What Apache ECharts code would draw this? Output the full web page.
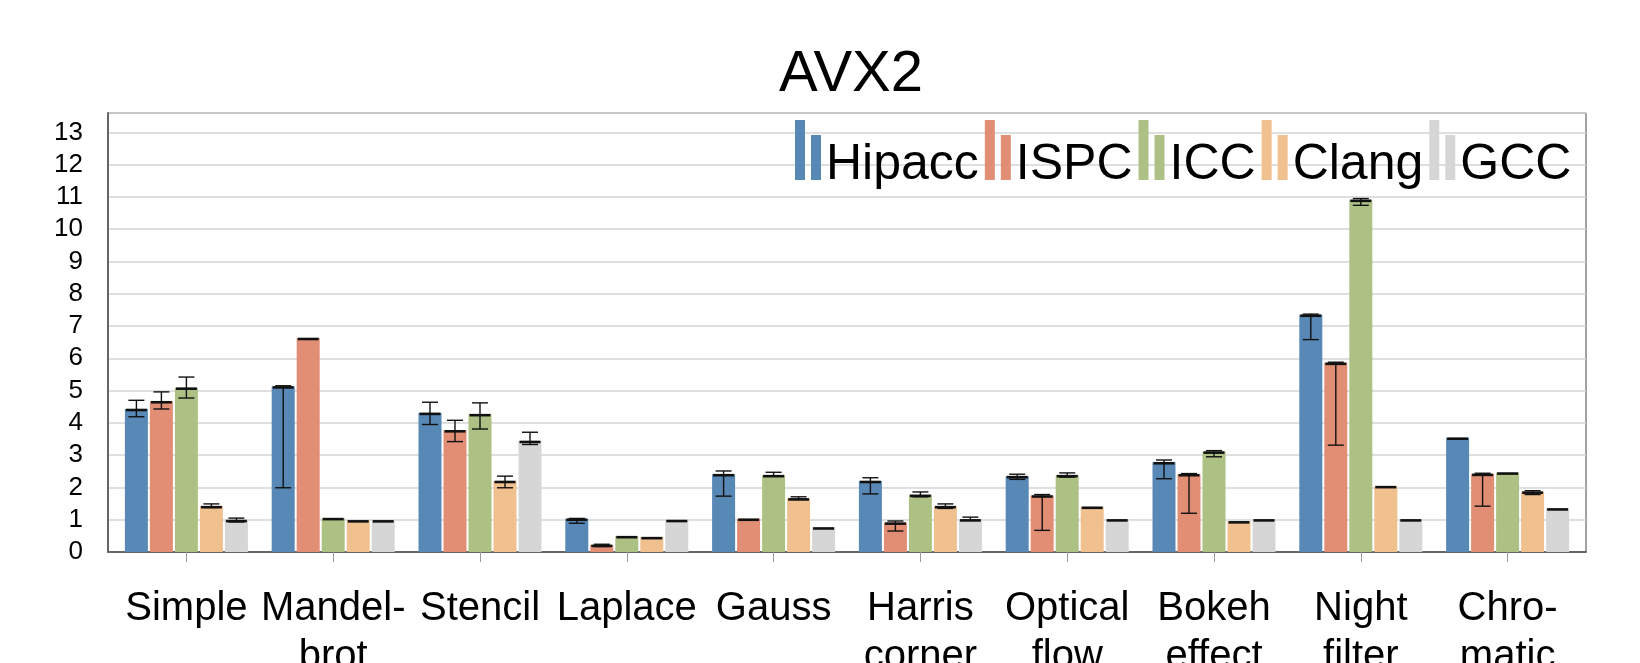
<!DOCTYPE html>
<html>
<head>
<meta charset="utf-8">
<script src="https://cdn.jsdelivr.net/npm/echarts@6/dist/echarts.min.js"></script>
<style>html,body{margin:0;padding:0;background:#fff;}#c{width:1640px;height:663px;}</style>
</head>
<body>
<div id="c"></div>
<script>
const categories = ['Simple','Mandel-\nbrot','Stencil','Laplace','Gauss','Harris\ncorner','Optical\nflow','Bokeh\neffect','Night\nfilter','Chro-\nmatic'];
const seriesNames = ['Hipacc','ISPC','ICC','Clang','GCC'];

const hipacc   = [4.43, 5.13, 4.31, 1.03, 2.41, 2.20, 2.35, 2.78, 7.35, 3.54];
const hipaccLo = [4.19, 1.99, 3.95, 0.89, 1.73, 1.80, 2.25, 2.27, 6.58, 3.52];
const hipaccHi = [4.70, 5.15, 4.64, 1.04, 2.51, 2.30, 2.41, 2.85, 7.37, 3.56];

const ispc   = [4.67, 6.63, 3.77, 0.22, 1.03, 0.91, 1.75, 2.41, 5.86, 2.42];
const ispcLo = [4.43, 6.62, 3.42, 0.17, 1.01, 0.65, 0.67, 1.20, 3.31, 1.42];
const ispcHi = [4.96, 6.65, 4.08, 0.24, 1.05, 0.96, 1.78, 2.43, 5.88, 2.44];

const icc   = [5.09, 1.05, 4.27, 0.49, 2.38, 1.77, 2.38, 3.11, 10.91, 2.46];
const iccLo = [4.77, 1.04, 3.81, 0.48, 2.35, 1.71, 2.32, 2.95, 10.74, 2.45];
const iccHi = [5.42, 1.06, 4.62, 0.50, 2.47, 1.86, 2.45, 3.14, 10.95, 2.48];

const clang   = [1.42, 0.98, 2.20, 0.46, 1.66, 1.42, 1.40, 0.95, 2.04, 1.87];
const clangLo = [1.38, 0.97, 1.99, 0.45, 1.63, 1.35, 1.39, 0.94, 2.03, 1.78];
const clangHi = [1.49, 0.99, 2.35, 0.47, 1.71, 1.49, 1.42, 0.96, 2.05, 1.90];

const gcc   = [0.99, 0.98, 3.44, 0.99, 0.76, 1.01, 1.01, 1.01, 1.01, 1.35];
const gccLo = [0.93, 0.97, 3.33, 0.98, 0.75, 0.98, 1.00, 1.00, 1.00, 1.34];
const gccHi = [1.05, 0.99, 3.71, 1.00, 0.77, 1.08, 1.03, 1.02, 1.02, 1.36];

const colors = ['#5888b5', '#e28e74', '#aec184', '#f0c18f', '#d6d6d6'];
const values = [hipacc, ispc, icc, clang, gcc];
const lows = [hipaccLo, ispcLo, iccLo, clangLo, gccLo];
const highs = [hipaccHi, ispcHi, iccHi, clangHi, gccHi];

const BAR_W = 23, BAR_GAP = 2;
const FONT = '"Liberation Sans", Arial, Helvetica, sans-serif';

function errRenderer(sIdx) {
  return function (params, api) {
    const x = api.value(0), v = api.value(1), lo = api.value(2), hi = api.value(3);
    const c = api.coord([x, v]);
    const pl = api.coord([x, lo]);
    const ph = api.coord([x, hi]);
    const xc = c[0] + (sIdx - 2) * (BAR_W + BAR_GAP);
    const st = { stroke: '#111', lineWidth: 1.4 };
    const ch = [
      { type: 'line', shape: { x1: xc - 10.5, y1: c[1] + 1, x2: xc + 10.5, y2: c[1] + 1 }, style: { stroke: '#111', lineWidth: 2.6 } }
    ];
    if (Math.abs(pl[1] - ph[1]) > 2) {
      ch.push({ type: 'line', shape: { x1: xc, y1: ph[1], x2: xc, y2: pl[1] }, style: st });
      ch.push({ type: 'line', shape: { x1: xc - 8, y1: ph[1], x2: xc + 8, y2: ph[1] }, style: st });
      ch.push({ type: 'line', shape: { x1: xc - 8, y1: pl[1], x2: xc + 8, y2: pl[1] }, style: st });
    }
    return { type: 'group', children: ch };
  };
}

const series = [];
seriesNames.forEach((name, i) => {
  series.push({
    name: name, type: 'bar', xAxisIndex: 1, yAxisIndex: 1,
    barWidth: BAR_W, barGap: (BAR_GAP / BAR_W * 100).toFixed(2) + '%',
    itemStyle: { color: colors[i] },
    data: values[i]
  });
});
seriesNames.forEach((name, i) => {
  series.push({
    name: name + '-err', type: 'custom', xAxisIndex: 1, yAxisIndex: 1, z: 5,
    renderItem: errRenderer(i),
    encode: { x: 0, y: [1, 2, 3] },
    data: values[i].map((v, k) => [k, v, lows[i][k], highs[i][k]])
  });
});

const chart = echarts.init(document.getElementById('c'), null, { renderer: 'canvas' });
chart.setOption({
  animation: false,
  backgroundColor: '#fff',
  title: {
    text: 'AVX2', left: 846, top: 41, textAlign: 'center',
    textStyle: { fontFamily: FONT, fontSize: 58, fontWeight: 'normal', color: '#000' }
  },
  legend: {
    data: seriesNames, left: 790, top: 115, itemGap: 6, itemWidth: 26, itemHeight: 60,
    icon: 'path://M0,0H10V60H0Z M16,15H26V60H16Z',
    formatter: '{a|{name}}',
    textStyle: {
      fontFamily: FONT, fontSize: 50, color: '#000',
      rich: { a: { fontFamily: FONT, fontSize: 50, color: '#000', padding: [30, 0, 0, 0] } }
    }
  },
  grid: [
    { left: 108, right: 54, top: 113, bottom: 111, show: true, borderColor: '#444', borderWidth: 1, outerBoundsMode: 'none', containLabel: false },
    { left: 113, right: 59, top: 113, bottom: 111, outerBoundsMode: 'none', containLabel: false }
  ],
  xAxis: [
    { gridIndex: 0, type: 'category', data: categories,
      axisLine: { show: true, lineStyle: { color: '#666', width: 2 } },
      axisTick: { show: false }, axisLabel: { show: false }, splitLine: { show: false } },
    { gridIndex: 1, type: 'category', data: categories,
      axisLine: { show: false },
      axisTick: { show: true, alignWithLabel: true, length: 10, lineStyle: { color: '#999', width: 1 } },
      axisLabel: { margin: 33, fontFamily: FONT, fontSize: 40, lineHeight: 48, color: '#000', interval: 0 } }
  ],
  yAxis: [
    { gridIndex: 0, type: 'value', min: 0, max: 13.6, interval: 1,
      axisLine: { show: true, lineStyle: { color: '#666', width: 2 } },
      axisTick: { show: false },
      axisLabel: { showMaxLabel: false, margin: 25, fontFamily: FONT, fontSize: 26, color: '#000' },
      splitLine: { show: true, lineStyle: { color: '#d4d4d4', width: 1.5 } } },
    { gridIndex: 1, type: 'value', min: 0, max: 13.6, interval: 1, show: false, splitLine: { show: false } }
  ],
  series: series
});
</script>
</body>
</html>
